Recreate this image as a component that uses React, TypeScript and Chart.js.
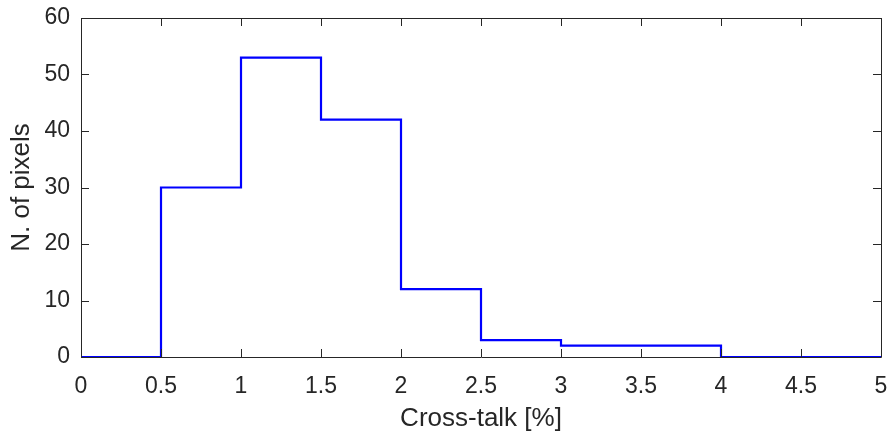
import React, { useEffect, useRef } from "react";
import { Chart, registerables } from "chart.js";

Chart.register(...registerables);

const binEdges = [0, 0.5, 1, 1.5, 2, 2.5, 3, 3.5, 4, 4.5, 5];
const counts = [0, 30, 53, 42, 12, 3, 2, 2, 0, 0, 0];
const xTicks = [0, 0.5, 1, 1.5, 2, 2.5, 3, 3.5, 4, 4.5, 5];
const yTicks = [0, 10, 20, 30, 40, 50, 60];

const AXIS_COLOR = "#262626";
const FONT = "'Liberation Sans', Arial, Helvetica, sans-serif";

const boxPlugin = {
  id: "matlabBox",
  afterDraw(chart: any) {
    const { ctx, chartArea } = chart;
    const { left, right, top, bottom } = chartArea;
    const xs = chart.scales.x;
    const ys = chart.scales.y;
    const len = 8;
    ctx.save();
    ctx.strokeStyle = AXIS_COLOR;
    ctx.lineWidth = 1;
    ctx.beginPath();
    ctx.rect(Math.round(left) + 0.5, Math.round(top) + 0.5, Math.round(right - left), Math.round(bottom - top));
    ctx.stroke();
    ctx.beginPath();
    for (const v of xTicks) {
      const px = Math.round(xs.getPixelForValue(v)) + 0.5;
      ctx.moveTo(px, bottom);
      ctx.lineTo(px, bottom - len);
      ctx.moveTo(px, top);
      ctx.lineTo(px, top + len);
    }
    for (const v of yTicks) {
      const py = Math.round(ys.getPixelForValue(v)) + 0.5;
      ctx.moveTo(left, py);
      ctx.lineTo(left + len, py);
      ctx.moveTo(right, py);
      ctx.lineTo(right - len, py);
    }
    ctx.stroke();
    ctx.restore();
  },
};

export default function App() {
  const ref = useRef<HTMLCanvasElement | null>(null);
  useEffect(() => {
    if (!ref.current) return;
    const chart = new Chart(ref.current, {
      type: "line",
      data: {
        datasets: [
          {
            data: binEdges.map((x, i) => ({ x, y: counts[i] })),
            stepped: "before",
            borderColor: "#0000ff",
            borderWidth: 2.2,
            pointRadius: 0,
            fill: false,
          },
        ],
      },
      options: {
        animation: false,
        responsive: true,
        maintainAspectRatio: false,
        layout: { padding: { left: 0, top: 18, right: 6, bottom: 0 } },
        plugins: { legend: { display: false }, tooltip: { enabled: false } },
        scales: {
          x: {
            type: "linear",
            min: 0,
            max: 5,
            afterBuildTicks: (s: any) => {
              s.ticks = xTicks.map((v) => ({ value: v }));
            },
            afterFit: (s: any) => {
              s.height = 75;
              s.paddingLeft = 0;
              s.paddingRight = 0;
            },
            grid: { display: false, drawTicks: false },
            border: { display: false },
            ticks: {
              color: AXIS_COLOR,
              font: { family: FONT, size: 23 },
              padding: 16,
              maxRotation: 0,
              autoSkip: false,
              callback: (v: any) => String(v),
            },
            title: {
              display: true,
              text: "Cross-talk [%]",
              color: AXIS_COLOR,
              font: { family: FONT, size: 26, lineHeight: 1 },
              padding: { top: 0, bottom: 0 },
            },
          },
          y: {
            type: "linear",
            min: 0,
            max: 60,
            afterBuildTicks: (s: any) => {
              s.ticks = yTicks.map((v) => ({ value: v }));
            },
            afterFit: (s: any) => {
              s.width = 81;
              s.paddingTop = 0;
              s.paddingBottom = 0;
            },
            grid: { display: false, drawTicks: false },
            border: { display: false },
            ticks: {
              color: AXIS_COLOR,
              font: { family: FONT, size: 23 },
              padding: 11,
              autoSkip: false,
              callback: (v: any) => String(v),
            },
            title: {
              display: true,
              text: "N. of pixels",
              color: AXIS_COLOR,
              font: { family: FONT, size: 26 },
              padding: { top: 6, bottom: 0 },
            },
          },
        },
      },
      plugins: [boxPlugin],
    });
    return () => chart.destroy();
  }, []);
  return (
    <div style={{ position: "fixed", left: 0, top: 0, width: 887, height: 432, background: "#fff" }}>
      <canvas ref={ref} />
    </div>
  );
}
